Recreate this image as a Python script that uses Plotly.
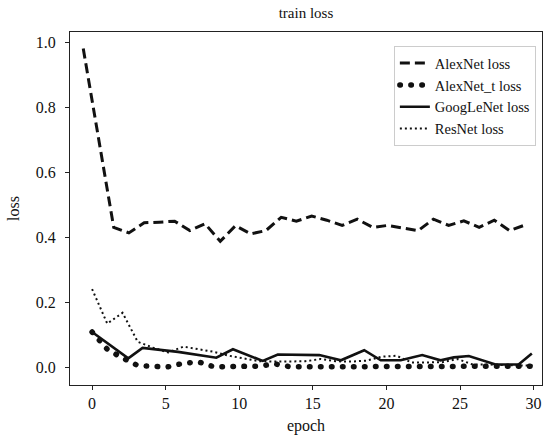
import plotly.graph_objects as go

# ---- data ----
epochs = [0, 1.03, 2.07, 3.1, 4.14, 5.17, 6.21, 7.24, 8.28, 9.31, 10.34, 11.38,
          12.41, 13.45, 14.48, 15.52, 16.55, 17.59, 18.62, 19.66, 20.69, 21.72,
          22.76, 23.79, 24.83, 25.86, 26.9, 27.93, 28.97, 30.0]

alexnet_epochs = [-0.6, 0.43, 1.47, 2.5, 3.54, 4.57, 5.61, 6.64, 7.68, 8.71, 9.74,
                  10.78, 11.81, 12.85, 13.88, 14.92, 15.95, 16.99, 18.02, 19.06,
                  20.09, 21.12, 22.16, 23.19, 24.23, 25.26, 26.3, 27.33, 28.37, 29.4]
alexnet_loss = [0.98, 0.70, 0.43, 0.413, 0.444, 0.446, 0.449, 0.42, 0.441, 0.387,
                0.435, 0.41, 0.42, 0.461, 0.449, 0.465, 0.452, 0.436, 0.455, 0.43,
                0.436, 0.428, 0.42, 0.455, 0.436, 0.45, 0.43, 0.452, 0.42, 0.437]

alexnet_t_loss = [0.108, 0.055, 0.028, 0.005, 0.002, 0.001, 0.012, 0.016, 0.001,
                  0.002, 0.002, 0.003, 0.01, 0.001, 0.001, 0.001, 0.001, 0.001,
                  0.002, 0.001, 0.001, 0.002, 0.001, 0.002, 0.002, 0.005, 0.004,
                  0.002, 0.001, 0.003]

googlenet_epochs = [0, 2.46, 3.43, 5.84, 8.44, 9.57, 11.6, 12.62, 15.44, 16.91,
                    18.49, 19.62, 20.97, 22.43, 23.68, 24.58, 25.6, 27.41, 28.98, 29.88]
googlenet_loss = [0.108, 0.027, 0.059, 0.047, 0.029, 0.055, 0.019, 0.039, 0.037,
                  0.021, 0.052, 0.021, 0.021, 0.037, 0.021, 0.030, 0.034, 0.008,
                  0.008, 0.042]

resnet_loss = [0.24, 0.134, 0.167, 0.078, 0.060, 0.045, 0.063, 0.055, 0.047, 0.035,
               0.027, 0.018, 0.017, 0.017, 0.018, 0.025, 0.018, 0.017, 0.020, 0.032,
               0.035, 0.014, 0.015, 0.015, 0.025, 0.008, 0.008, 0.006, 0.005, 0.005]

x_ticks = [0, 5, 10, 15, 20, 25, 30]
y_ticks = [0.0, 0.2, 0.4, 0.6, 0.8, 1.0]
y_tick_labels = ["0.0", "0.2", "0.4", "0.6", "0.8", "1.0"]

FONT = "Liberation Serif, Times New Roman, serif"
INK = "#111111"

fig = go.Figure()
fig.add_trace(go.Scatter(x=alexnet_epochs, y=alexnet_loss, mode="lines",
                         name="AlexNet loss",
                         line=dict(color=INK, width=3, dash="10px,5px")))
fig.add_trace(go.Scatter(x=epochs, y=alexnet_t_loss, mode="lines",
                         name="AlexNet_t loss",
                         line=dict(color=INK, width=5.5, dash="0.5px,10.5px")))
fig.add_trace(go.Scatter(x=googlenet_epochs, y=googlenet_loss, mode="lines",
                         name="GoogLeNet loss",
                         line=dict(color=INK, width=2.6)))
fig.add_trace(go.Scatter(x=epochs, y=resnet_loss, mode="lines",
                         name="ResNet loss",
                         line=dict(color=INK, width=2, dash="2px,3px")))

axis_common = dict(showgrid=False, zeroline=False, showline=True, linecolor="#222",
                   linewidth=1, mirror=True, ticks="outside", ticklen=4,
                   tickcolor="#222", tickfont=dict(family=FONT, size=16, color=INK))

fig.update_layout(
    width=545, height=439,
    margin=dict(l=70, r=3, t=32, b=54),
    paper_bgcolor="white", plot_bgcolor="white",
    font=dict(family=FONT, color=INK),
    title=dict(text="train loss", x=0.5, xref="paper", xanchor="center",
               y=1 - 13 / 439, yref="container", yanchor="middle",
               font=dict(family=FONT, size=15, color=INK)),
    xaxis=dict(range=[-1.5, 30.57], tickvals=x_ticks,
               title=dict(text="epoch", font=dict(family=FONT, size=16, color=INK),
                          standoff=8),
               **axis_common),
    yaxis=dict(range=[-0.055, 1.031], tickvals=y_ticks, ticktext=y_tick_labels,
               ticklabelstandoff=6,
               title=dict(text="loss", font=dict(family=FONT, size=16, color=INK),
                          standoff=12),
               **axis_common),
    legend=dict(x=0.987, xanchor="right", y=0.96, yanchor="top",
                bgcolor="rgba(255,255,255,0.8)", bordercolor="#cccccc",
                borderwidth=1, itemwidth=30,
                font=dict(family=FONT, size=14.5, color=INK)),
    showlegend=True,
)

post_script = """
document.body.style.margin = '0';
document.body.style.padding = '0';
var gd = document.getElementById('{plot_id}');
function fixCaps(){
  gd.querySelectorAll('path.js-line').forEach(function(p){
    var d = p.style.strokeDasharray || '';
    if (d.indexOf('0.5') === 0) { p.style.strokeLinecap = 'round'; }
  });
}
fixCaps();
setTimeout(fixCaps, 0);
setTimeout(fixCaps, 300);
if (gd.on) { gd.on('plotly_afterplot', fixCaps); }
"""

fig.write_html("out.html", post_script=post_script,
               config={"displayModeBar": False})
